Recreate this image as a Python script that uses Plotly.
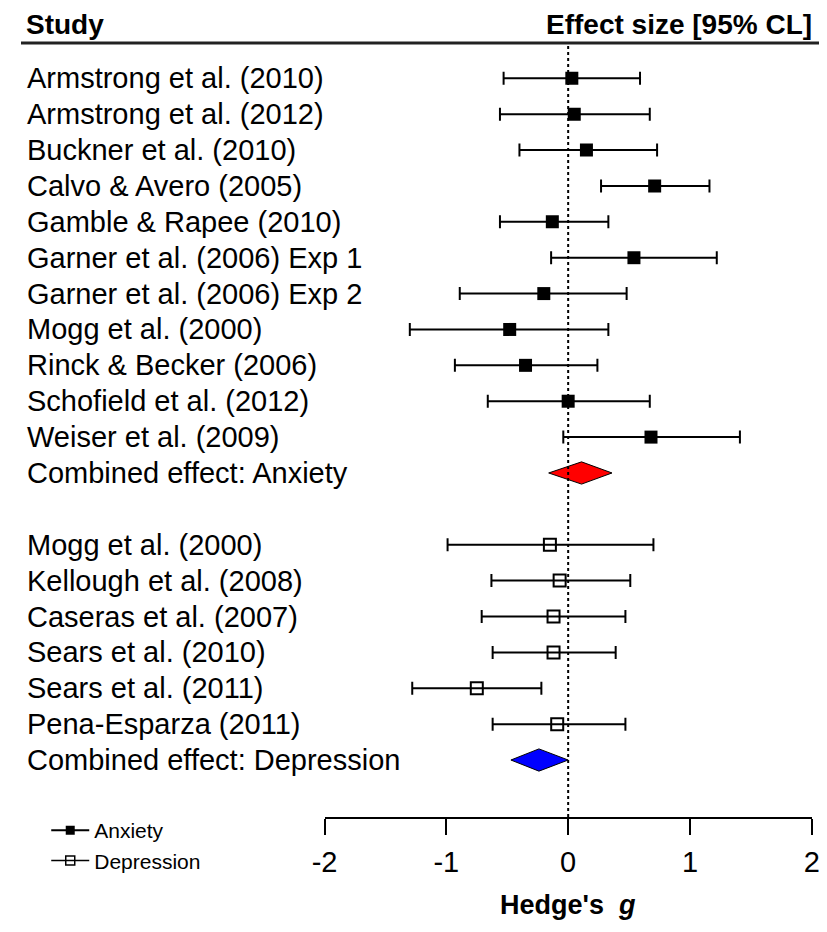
import plotly.graph_objects as go

# ---------------- data ----------------
anx_studies = ["Armstrong et al. (2010)", "Armstrong et al. (2012)", "Buckner et al. (2010)",
               "Calvo & Avero (2005)", "Gamble & Rapee (2010)", "Garner et al. (2006) Exp 1",
               "Garner et al. (2006) Exp 2", "Mogg et al. (2000)", "Rinck & Becker (2006)",
               "Schofield et al. (2012)", "Weiser et al. (2009)"]
anx_est = [0.03, 0.05, 0.15, 0.71, -0.13, 0.54, -0.20, -0.48, -0.35, 0.00, 0.68]
anx_lo = [-0.53, -0.56, -0.40, 0.27, -0.56, -0.14, -0.89, -1.30, -0.93, -0.66, -0.04]
anx_hi = [0.59, 0.67, 0.73, 1.16, 0.33, 1.22, 0.48, 0.33, 0.24, 0.67, 1.41]
anx_comb_label = "Combined effect: Anxiety"
anx_comb = [-0.16, 0.11, 0.36]  # lower, estimate, upper

dep_studies = ["Mogg et al. (2000)", "Kellough et al. (2008)", "Caseras et al. (2007)",
               "Sears et al. (2010)", "Sears et al. (2011)", "Pena-Esparza (2011)"]
dep_est = [-0.15, -0.07, -0.12, -0.12, -0.75, -0.09]
dep_lo = [-0.99, -0.63, -0.71, -0.62, -1.28, -0.62]
dep_hi = [0.70, 0.51, 0.47, 0.39, -0.22, 0.47]
dep_comb_label = "Combined effect: Depression"
dep_comb = [-0.47, -0.24, 0.00]

x_ticks = [-2, -1, 0, 1, 2]

# ---------------- layout constants ----------------
PAGE_OFF = 8                       # page body margin
SEEN_OFF, SEEN_K = 12.3, 0.985     # measured horizontal placement of the page in the photo
W, H = 823, 932 - 2 * PAGE_OFF


def px_x(p):  # window pixel -> paper x
    return min(1.0, max(0.0, ((p - SEEN_OFF) / SEEN_K - PAGE_OFF) / W))


def px_y(p):  # window pixel -> paper y
    return 1 - (p - PAGE_OFF) / H


ROW0_PX, ROW_PX, AXIS_PX, TOP_PX = 78.3, 35.88, 817, PAGE_OFF
X_LEFT_PX, X_RIGHT_PX = 327, 819.5
FONT = "Liberation Sans"
LBL_SIZE = 29
DIAMOND_H = 0.31

anx_rows = list(range(len(anx_studies)))
anx_comb_row = len(anx_studies)
dep_rows = [anx_comb_row + 2 + i for i in range(len(dep_studies))]
dep_comb_row = dep_rows[-1] + 1

fig = go.Figure()


def studies_trace(est, lo, hi, rows, symbol, msize, mline):
    return go.Scatter(
        x=est, y=rows, mode="markers", showlegend=False, hoverinfo="skip",
        marker=dict(symbol=symbol, size=msize, color="black",
                    line=dict(color="black", width=mline)),
        error_x=dict(type="data", symmetric=False,
                     array=[h - e for h, e in zip(hi, est)],
                     arrayminus=[e - l for e, l in zip(est, lo)],
                     color="black", thickness=2, width=6.5),
    )


fig.add_trace(studies_trace(anx_est, anx_lo, anx_hi, anx_rows, "square", 13, 0))
fig.add_trace(studies_trace(dep_est, dep_lo, dep_hi, dep_rows, "square-open", 12, 2))


def diamond(comb, row, color):
    lo, est, hi = comb
    return go.Scatter(
        x=[lo, est, hi, est, lo], y=[row, row - DIAMOND_H, row, row + DIAMOND_H, row],
        mode="lines", fill="toself", fillcolor=color, showlegend=False,
        line=dict(color="black", width=1), hoverinfo="skip")


fig.add_trace(diamond(anx_comb, anx_comb_row, "#ff0000"))
fig.add_trace(diamond(dep_comb, dep_comb_row, "#0000ff"))

# legend-only traces
fig.add_trace(go.Scatter(x=[None], y=[None], name="Anxiety", mode="lines+markers",
                         legendgroup="a",
                         line=dict(color="black", width=2),
                         marker=dict(symbol="square", size=9, color="black")))
fig.add_trace(go.Scatter(x=[None], y=[None], name="Depression", mode="lines+markers",
                         legendgroup="d",
                         line=dict(color="black", width=1.5),
                         marker=dict(symbol="square-open", size=9, color="black",
                                     line=dict(width=1.5))))

# study labels
annotations = []
for name, r in zip(anx_studies + [anx_comb_label] + dep_studies + [dep_comb_label],
                   anx_rows + [anx_comb_row] + dep_rows + [dep_comb_row]):
    annotations.append(dict(x=px_x(24), xref="paper", y=r, yref="y", text=name,
                            xanchor="left", yanchor="middle", showarrow=False,
                            font=dict(family=FONT, size=LBL_SIZE, color="black")))

annotations.append(dict(x=px_x(24), xref="paper", y=px_y(24.5), yref="paper",
                        text="<b>Study</b>", xanchor="left", yanchor="middle",
                        showarrow=False, borderpad=0,
                        font=dict(family=FONT, size=28, color="black")))
annotations.append(dict(x=px_x(821), xref="paper", y=px_y(24.5), yref="paper",
                        text="<b>Effect size [95% CL]</b>", xanchor="right", yanchor="middle",
                        showarrow=False, borderpad=0,
                        font=dict(family=FONT, size=28, color="black")))
annotations.append(dict(x=0, xref="x", y=px_y(905), yref="paper",
                        text="<b>Hedge's  <i>g</i></b>", xanchor="center", yanchor="middle",
                        showarrow=False, font=dict(family=FONT, size=27, color="black")))

shapes = [
    dict(type="line", xref="paper", yref="paper", x0=0, x1=1,
         y0=px_y(43), y1=px_y(43), line=dict(color="#222222", width=3)),
    dict(type="line", xref="x", yref="paper", x0=0, x1=0, y0=px_y(AXIS_PX), y1=px_y(46),
         line=dict(color="black", width=2, dash="dot")),
]

fig.update_layout(
    width=W, height=H, margin=dict(l=0, r=0, t=0, b=0),
    paper_bgcolor="white", plot_bgcolor="white",
    annotations=annotations, shapes=shapes,
    legend=dict(x=px_x(33.9 * SEEN_K + SEEN_OFF), y=px_y(810), xanchor="left", yanchor="top",
                font=dict(family=FONT, size=21, color="black"),
                bgcolor="rgba(0,0,0,0)", tracegroupgap=0, itemwidth=38),
    xaxis=dict(domain=[px_x(X_LEFT_PX), px_x(X_RIGHT_PX)], range=[-2, 2],
               tickvals=x_ticks, ticktext=[str(t) for t in x_ticks],
               showgrid=False, zeroline=False, showline=True, linecolor="black", linewidth=2,
               ticks="outside", ticklen=16, tickwidth=2, tickcolor="black",
               ticklabelstandoff=2, ticklabeloverflow="allow",
               tickfont=dict(family=FONT, size=LBL_SIZE, color="black")),
    yaxis=dict(domain=[px_y(AXIS_PX), px_y(TOP_PX)],
               range=[(AXIS_PX - ROW0_PX) / ROW_PX, (TOP_PX - ROW0_PX) / ROW_PX],
               visible=False, showgrid=False, zeroline=False),
)

fig.write_html("out.html")
